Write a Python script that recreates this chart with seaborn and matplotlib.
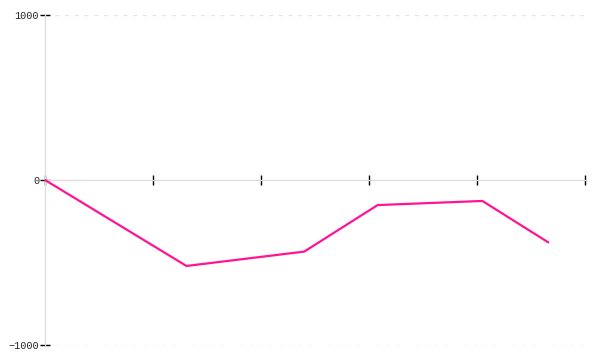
import matplotlib
matplotlib.use("Agg")
import matplotlib.pyplot as plt
import seaborn as sns
import pandas as pd

# Data
x_positions = [0, 1.31, 2.40, 3.08, 4.05, 4.66]
values = [0, -521, -434, -152, -127, -378]
x_ticks = [0, 1, 2, 3, 4, 5]
y_ticks = [-1000, 0, 1000]
y_tick_labels = ["\u22121000", "0", "1000"]

sns.set_style("white")
plt.rcParams["font.family"] = ["Liberation Mono", "DejaVu Sans Mono"]

fig = plt.figure(figsize=(6, 3.6), dpi=100)
ax = fig.add_axes([45 / 600, 1 - 345 / 360, 540 / 600, 330 / 360])

df = pd.DataFrame({"x": x_positions, "y": values})

# gridlines at +/-1000 (dashed, very light)
for v in (-1000, 1000):
    ax.axhline(v, color="#e6e6e6", lw=1, ls=(0, (3, 4)), zorder=0)

sns.lineplot(data=df, x="x", y="y", ax=ax, color="#ff1493", lw=1.6, zorder=3)

ax.set_xlim(0, 5)
ax.set_ylim(-1000, 1000)
ax.set_xlabel("")
ax.set_ylabel("")

for s in ("top", "right"):
    ax.spines[s].set_visible(False)
ax.spines["left"].set_color("#dddddd")
ax.spines["left"].set_linewidth(1)
ax.spines["bottom"].set_position(("data", 0))
ax.spines["bottom"].set_color("#dddddd")
ax.spines["bottom"].set_linewidth(1)
ax.spines["bottom"].set_zorder(1)

ax.set_xticks(x_ticks)
ax.set_xticklabels([""] * len(x_ticks))
ax.set_yticks(y_ticks)
ax.set_yticklabels(y_tick_labels)

ax.tick_params(axis="x", direction="inout", length=6.5, width=1, color="black",
               bottom=True, top=False)
ax.tick_params(axis="y", direction="inout", length=6.5, width=1, color="black",
               left=True, right=False, pad=1, labelsize=7.3, labelcolor="#222222")

fig.savefig("out.png", dpi=100)
